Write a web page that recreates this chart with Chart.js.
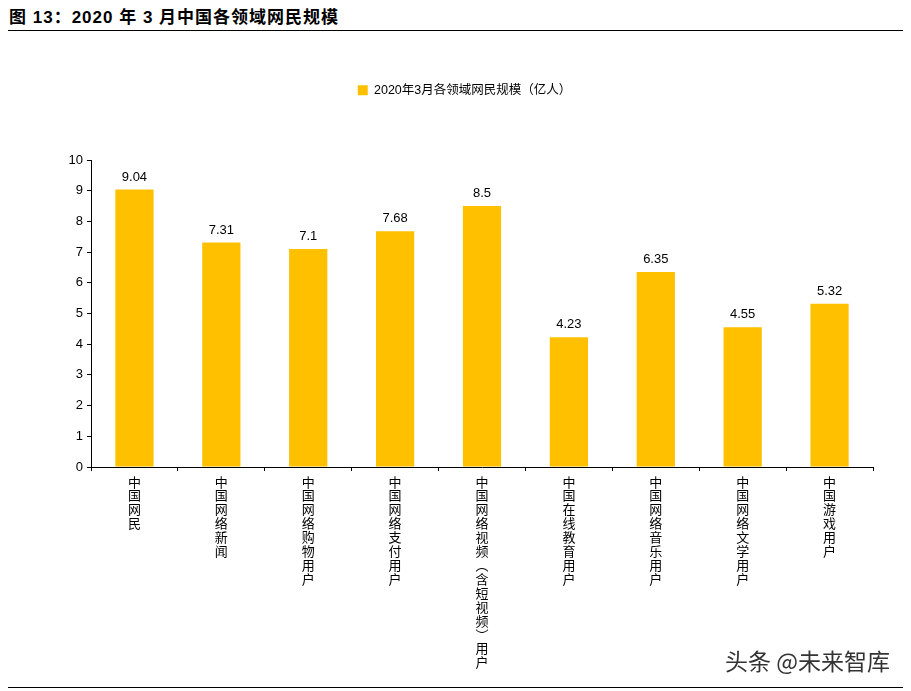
<!DOCTYPE html>
<html>
<head>
<meta charset="utf-8">
<script src="https://cdn.jsdelivr.net/npm/chart.js@4/dist/chart.umd.min.js"></script>
<style>
    body { margin: 0; background: #fff; }
    #wrap { position: relative; width: 911px; height: 691px; }
    #title { position: absolute; left: 9px; top: 3px; font: bold 17px "Liberation Sans", "Noto Sans CJK SC", sans-serif; letter-spacing: 1px; color: #000; }
    .rule { position: absolute; left: 8px; width: 895px; height: 0; border-top: 1.5px solid #000; }
    #mark { position: absolute; left: 725px; top: 643px; font: 23px "Noto Sans CJK SC", sans-serif; color: #333; }
</style>
</head>
<body>
<div id="wrap">
    <div id="title">图 13：2020 年 3 月中国各领域网民规模</div>
    <div class="rule" style="top:30px"></div>
    <canvas id="bars" width="911" height="691" style="position:absolute;left:0;top:0"></canvas>
    <div id="mark">头条 @未来智库</div>
    <div class="rule" style="top:687px"></div>
</div>
<script>
// categories, values
const categories = ["中国网民", "中国网络新闻", "中国网络购物用户", "中国网络支付用户",
    "中国网络视频︵含短视频︶用户", "中国在线教育用户", "中国网络音乐用户", "中国网络文学用户", "中国游戏用户"];
const users = [9.04, 7.31, 7.1, 7.68, 8.5, 4.23, 6.35, 4.55, 5.32];
const seriesName = "2020年3月各领域网民规模（亿人）";

const fontFamily = '"Liberation Sans", "Noto Sans CJK SC", sans-serif';

// values above bars
const valueLabels = {
    id: 'valueLabels',
    afterDatasetsDraw(chart) {
        const ctx = chart.ctx;
        ctx.save();
        ctx.font = '13px ' + fontFamily;
        ctx.fillStyle = '#000';
        ctx.textAlign = 'center';
        ctx.textBaseline = 'bottom';
        chart.getDatasetMeta(0).data.forEach((bar, i) => {
            ctx.fillText(String(users[i]), bar.x, bar.y - 6);
        });
        ctx.restore();
    }
};

// push the plot area down below the legend
const legendGap = {
    id: 'legendGap',
    beforeLayout(chart) {
        const legend = chart.legend;
        if (legend && !legend._patched) {
            const fit = legend.fit;
            legend.fit = function () {
                fit.call(this);
                this.height = 86;
            };
            legend._patched = true;
        }
    }
};

let ctx = document.getElementById('bars').getContext('2d');
new Chart(ctx, {
    type: 'bar',
    data: {
        labels: categories.map(s => Array.from(s)),
        datasets: [
            {
                label: seriesName,
                backgroundColor: 'rgb(255,192,0)',
                data: users,
                categoryPercentage: 1,
                barPercentage: 0.44,
            }
        ],
    },
    options: {
        animation: false,
        responsive: false,
        layout: {
            padding: {top: 74, left: 56, right: 38, bottom: 0}
        },
        plugins: {
            legend: {
                display: true,
                position: 'top',
                labels: {
                    boxWidth: 10,
                    boxHeight: 10,
                    padding: 10,
                    color: '#000',
                    font: {family: fontFamily, size: 12.5}
                }
            },
            tooltip: {enabled: false}
        },
        scales: {
            x: {
                grid: {drawOnChartArea: false, tickLength: 4, color: '#000', offset: true},
                border: {color: '#000', width: 1},
                ticks: {
                    maxRotation: 0,
                    minRotation: 0,
                    autoSkip: false,
                    padding: 5,
                    color: '#000',
                    font: {family: fontFamily, size: 13, lineHeight: 1.07}
                },
                afterFit(scale) { scale.height = 224; }
            },
            y: {
                min: 0,
                max: 10,
                grid: {drawOnChartArea: false, tickLength: 4, color: '#000'},
                border: {color: '#000', width: 1},
                ticks: {
                    stepSize: 1,
                    padding: 4,
                    color: '#000',
                    font: {family: fontFamily, size: 13}
                },
                afterFit(scale) { scale.width = 35; }
            }
        }
    },
    plugins: [valueLabels, legendGap]
});
</script>
</body>
</html>
